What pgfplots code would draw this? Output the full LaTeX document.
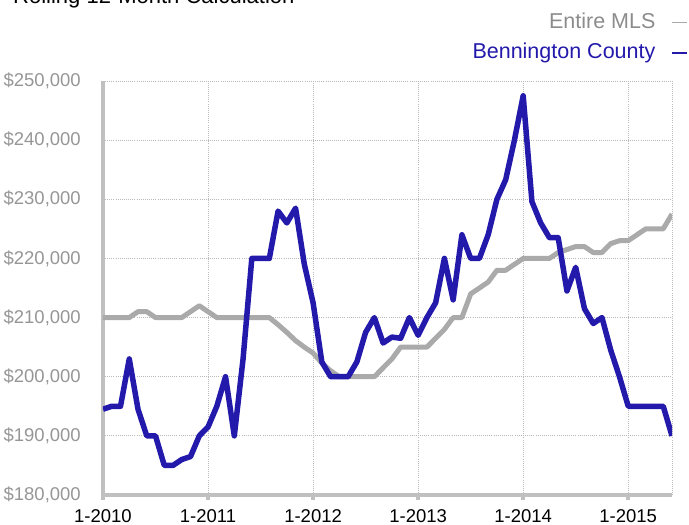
\documentclass[border=0pt]{standalone}
\usepackage{fontspec}
\setmainfont{Liberation Sans}
\usepackage{pgfplots}
\usepackage{pgfplotstable}
\pgfplotsset{compat=1.18}
\definecolor{bluel}{RGB}{35,25,170}
\definecolor{grayl}{RGB}{170,170,170}
\definecolor{axgray}{RGB}{192,192,192}
\definecolor{gridgray}{RGB}{185,185,185}
\definecolor{lblgray}{RGB}{150,150,150}
\definecolor{legray}{RGB}{140,140,140}

\pgfplotstableread{
m mls ben
0 210000 194500
1 210000 195000
2 210000 195000
3 210000 203000
4 211000 194500
5 211000 190000
6 210000 190000
7 210000 185000
8 210000 185000
9 210000 186000
10 211000 186500
11 212000 190000
12 211000 191500
13 210000 195000
14 210000 200000
15 210000 190000
16 210000 203000
17 210000 220000
18 210000 220000
19 210000 220000
20 208800 228000
21 207500 226000
22 206100 228500
23 205000 219000
24 204000 212500
25 202300 202500
26 201000 200000
27 200000 200000
28 200000 200000
29 200000 202500
30 200000 207500
31 200000 210000
32 201500 205700
33 203000 206700
34 205000 206500
35 205000 210000
36 205000 207000
37 205000 210000
38 206500 212500
39 208000 220000
40 210000 213000
41 210000 224000
42 214000 220000
43 215000 220000
44 216000 224000
45 218000 230000
46 218000 233300
47 219000 240000
48 220000 247500
49 220000 229600
50 220000 226000
51 220000 223500
52 221000 223500
53 221500 214500
54 222000 218500
55 222000 211500
56 221000 209000
57 221000 210000
58 222500 204500
59 223000 200000
60 223000 195000
61 224000 195000
62 225000 195000
63 225000 195000
64 225000 195000
65 227500 190000
}\datatable

\begin{document}
\begin{tikzpicture}
\begin{axis}[
  at={(0,0)}, anchor=south west,
  scale only axis, width=569bp, height=414bp,
  xmin=0, xmax=65, ymin=180000, ymax=250000,
  scaled y ticks=false,
  axis x line=bottom, axis y line=left,
  axis line style={-, line width=4.5bp, color=axgray},
  xtick={0,12,24,36,48,60},
  xticklabels={1-2010,1-2011,1-2012,1-2013,1-2014,1-2015},
  ytick={180000,190000,200000,210000,220000,230000,240000,250000},
  yticklabels={{\$180,000},{\$190,000},{\$200,000},{\$210,000},{\$220,000},{\$230,000},{\$240,000},{\$250,000}},
  grid=major,
  major grid style={line width=0.8bp, dash pattern=on 0.8bp off 1.3bp, color=gridgray},
  tick align=outside,
  major tick length=5bp,
  xtick style={line width=4bp, color=axgray},
  ytick style={draw=none},
  extra x ticks={65}, extra x tick labels={},
  extra x tick style={grid=major, xtick style={draw=none}},
  xticklabel style={font=\fontsize{18.5bp}{22bp}\selectfont, text=black, anchor=north, inner sep=0pt, yshift=-9.5bp},
  yticklabel style={font=\fontsize{18.5bp}{22bp}\selectfont, text=lblgray, anchor=east, inner sep=0pt, xshift=-17bp},
  legend style={at={(axis description cs:1,1)}, anchor=north east, xshift=16bp, yshift=68bp,
    draw=none, fill=none, inner sep=0pt, outer sep=0pt,
    font=\fontsize{21.5bp}{25bp}\selectfont, column sep=16bp, row sep=10.3bp,
    nodes={inner sep=0pt, text height=15.5bp, text depth=4.5bp}},
  legend cell align=right,
  legend plot pos=right,
  legend image code/.code={\draw[#1, line width=1.6bp] (0bp,0.5bp) -- (15bp,0.5bp);},
]
\addplot[grayl, line width=5bp, line join=round] table[x=m, y=mls] {\datatable};
\addlegendentry{\textcolor{legray}{Entire MLS}}
\addplot[bluel, line width=5.5bp, line join=round] table[x=m, y=ben] {\datatable};
\addlegendentry{\textcolor{bluel}{Bennington County}}
\end{axis}
\node[anchor=base west, inner sep=0pt, font=\fontsize{22bp}{26bp}\selectfont] at (-90bp,491bp) {Rolling 12-Month Calculation};
\pgfresetboundingbox
\path[use as bounding box] (-103bp,-30bp) rectangle (586bp,495bp);
\end{tikzpicture}
\end{document}
